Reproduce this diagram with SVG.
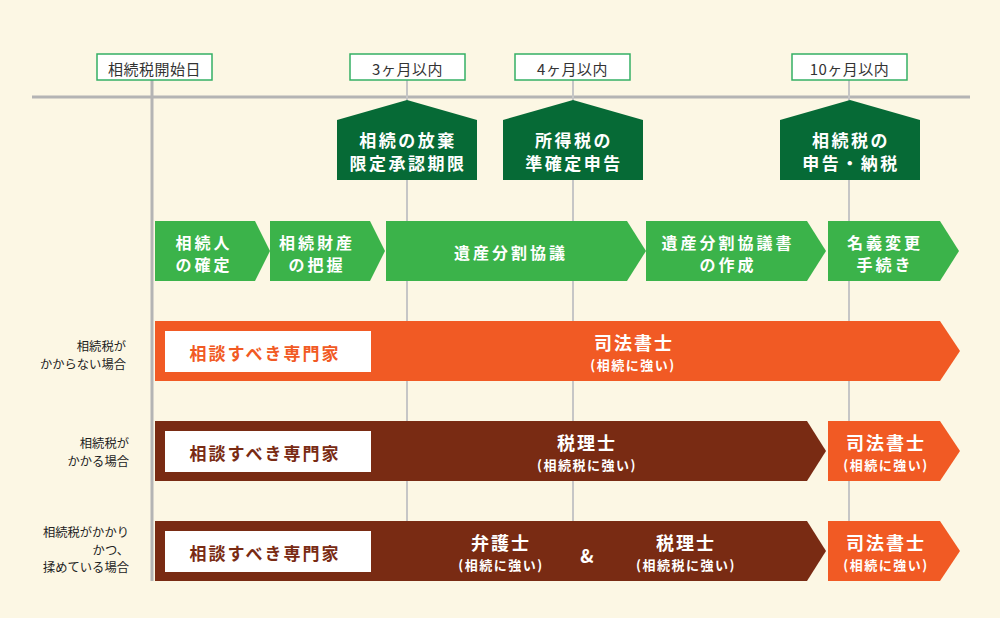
<svg xmlns="http://www.w3.org/2000/svg" width="1000" height="618" viewBox="0 0 1000 618">
<style>
text{font-family:"Noto Sans CJK JP","Noto Sans",sans-serif;dominant-baseline:central;text-anchor:middle}
.lbl{fill:#333;font-size:15px;letter-spacing:0.5px}
.lbox{fill:#fff;stroke:#34b064;stroke-width:1.5}
.pent{fill:#066a36}
.pt{fill:#fff;font-size:17px;font-weight:700;letter-spacing:2.5px}
.chev{fill:#3bb34a}
.ct{fill:#fff;font-size:16px;font-weight:700;letter-spacing:3px}
.side{fill:#222;font-size:12.3px;text-anchor:end}
.orange{fill:#f15a24}
.brown{fill:#792b13}
.wbox{fill:#fff}
.exo{fill:#f15a24;font-size:17px;font-weight:700;letter-spacing:2px}
.exb{fill:#792b13;font-size:17px;font-weight:700;letter-spacing:2px}
.bt{fill:#fff;font-size:18px;font-weight:700;letter-spacing:2px}
.bs{fill:#fff;font-size:13px;font-weight:700;letter-spacing:1.5px}
.main{stroke:#b4b4b4;stroke-width:3;fill:none}
.thin{stroke:#c6c6c6;stroke-width:2;fill:none}
</style>
<rect width="1000" height="618" fill="#fcf7e4"/>
<g id="connectors">
<line class="main" x1="32" y1="97" x2="970" y2="97"/>
<line class="main" x1="152" y1="80" x2="152" y2="581"/>
<line class="thin" x1="407" y1="80" x2="407" y2="521"/>
<line class="thin" x1="573" y1="80" x2="573" y2="521"/>
<line class="thin" x1="849" y1="80" x2="849" y2="521"/>
</g>
<g id="label-start"><rect class="lbox" x="97" y="54" width="115" height="26"/><text class="lbl" x="154.5" y="68">相続税開始日</text></g>
<g id="label-3m"><rect class="lbox" x="350" y="54" width="115" height="26"/><text class="lbl" x="407.5" y="68">3ヶ月以内</text></g>
<g id="label-4m"><rect class="lbox" x="515" y="54" width="115" height="26"/><text class="lbl" x="572.5" y="68">4ヶ月以内</text></g>
<g id="label-10m"><rect class="lbox" x="792" y="54" width="115" height="26"/><text class="lbl" x="849.5" y="68">10ヶ月以内</text></g>
<g id="deadline-3m"><polygon class="pent" points="337,120 407,100 477,120 477,180 337,180"/><text class="pt" x="408" y="139">相続の放棄</text><text class="pt" x="408" y="162">限定承認期限</text></g>
<g id="deadline-4m"><polygon class="pent" points="503,120 573,100 643,120 643,180 503,180"/><text class="pt" x="574" y="139">所得税の</text><text class="pt" x="574" y="162">準確定申告</text></g>
<g id="deadline-10m"><polygon class="pent" points="780,120 850,100 920,120 920,180 780,180"/><text class="pt" x="851" y="139">相続税の</text><text class="pt" x="851" y="162">申告・納税</text></g>
<g id="step1"><polygon class="chev" points="155,221 255,221 270,251 255,281 155,281"/><text class="ct" x="204" y="242">相続人</text><text class="ct" x="204" y="264">の確定</text></g>
<g id="step2"><polygon class="chev" points="270,221 370,221 385,251 370,281 270,281"/><text class="ct" x="317" y="242">相続財産</text><text class="ct" x="317" y="264">の把握</text></g>
<g id="step3"><polygon class="chev" points="386,221 627,221 646,251 627,281 386,281"/><text class="ct" x="511" y="252">遺産分割協議</text></g>
<g id="step4"><polygon class="chev" points="646,221 807,221 826,251 807,281 646,281"/><text class="ct" x="728" y="242">遺産分割協議書</text><text class="ct" x="728" y="264">の作成</text></g>
<g id="step5"><polygon class="chev" points="828,221 940,221 959,251 940,281 828,281"/><text class="ct" x="885" y="242">名義変更</text><text class="ct" x="885" y="264">手続き</text></g>
<g id="case1-label"><text class="side" x="126" y="346">相続税が</text><text class="side" x="126" y="364">かからない場合</text></g>
<g id="case2-label"><text class="side" x="129" y="443">相続税が</text><text class="side" x="129" y="461">かかる場合</text></g>
<g id="case3-label"><text class="side" x="129" y="532">相続税がかかり</text><text class="side" x="129" y="550">かつ、</text><text class="side" x="129" y="567">揉めている場合</text></g>
<g id="case1-bar"><polygon class="orange" points="155,321 940,321 960,351 940,381 155,381"/><rect class="wbox" x="165" y="331" width="206" height="41"/><text class="exo" x="265" y="352">相談すべき専門家</text><text class="bt" x="634" y="342">司法書士</text><text class="bs" x="633" y="364">(相続に強い)</text></g>
<g id="case2-bar"><polygon class="brown" points="155,421 807,421 826,451 807,481 155,481"/><rect class="wbox" x="165" y="431" width="206" height="41"/><text class="exb" x="265" y="452">相談すべき専門家</text><text class="bt" x="587" y="442">税理士</text><text class="bs" x="587" y="464">(相続税に強い)</text></g>
<g id="case2-scrivener"><polygon class="orange" points="828,421 940,421 960,451 940,481 828,481"/><text class="bt" x="886" y="442">司法書士</text><text class="bs" x="886" y="464">(相続に強い)</text></g>
<g id="case3-bar"><polygon class="brown" points="155,521 807,521 826,551 807,581 155,581"/><rect class="wbox" x="165" y="531" width="206" height="41"/><text class="exb" x="265" y="552">相談すべき専門家</text><text class="bt" x="501" y="542">弁護士</text><text class="bs" x="501" y="564">(相続に強い)</text><text class="bt" x="588" y="555">&amp;</text><text class="bt" x="686" y="542">税理士</text><text class="bs" x="686" y="564">(相続税に強い)</text></g>
<g id="case3-scrivener"><polygon class="orange" points="828,521 940,521 960,551 940,581 828,581"/><text class="bt" x="886" y="542">司法書士</text><text class="bs" x="886" y="564">(相続に強い)</text></g>
</svg>
